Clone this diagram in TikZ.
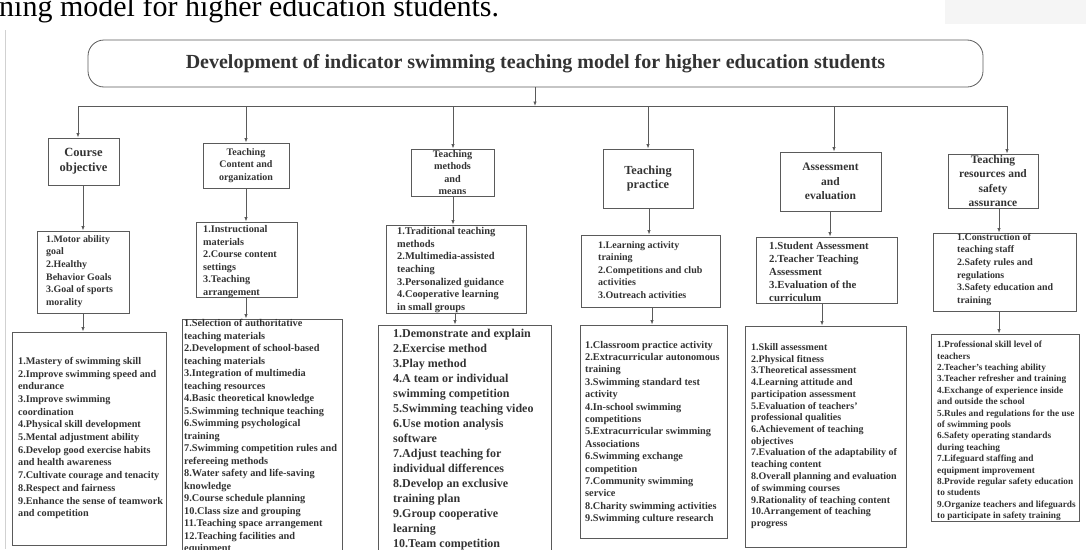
\documentclass[tikz,border=0pt]{standalone}
\usepackage{fontspec}
\setmainfont{Liberation Serif}
\usetikzlibrary{arrows.meta}
\definecolor{linegray}{HTML}{5A5A5A}
\definecolor{textgray}{HTML}{333333}
\newcommand{\setsize}[2]{\fontsize{#1}{#2}\selectfont\bfseries}

\begin{document}
\begin{tikzpicture}[
  x = 1pt, y = -1pt,
  line/.style  = {draw=linegray, line width=0.8pt},
  arr/.style   = {line, -{Latex[length=4.5pt,width=3.4pt]}},
  frame/.style = {draw=linegray, line width=0.8pt, inner sep=0pt},
  head/.style  = {frame, align=center, text=textgray},
  words/.style = {anchor=west, align=left, inner sep=0pt, text=textgray},
]

\useasboundingbox (0,0) rectangle (1086,549);

\fill[black!4] (945,0) rectangle (1086,24);
\draw[black!18, line width=0.6pt] (5,30) -- (5,549);
\node[anchor=base west, inner sep=0pt, font=\fontsize{30}{34}\selectfont] (caption)
  at (-1,16) {ning model for higher education students.};

\node[frame, rounded corners=16pt, minimum width=895pt, minimum height=47pt,
      text=textgray, font=\setsize{20}{24}] (top) at (535.5,63.5)
  {Development of indicator swimming teaching model for higher education students};

\coordinate (bus)  at (535,106);
\coordinate (busL) at (78,106);
\coordinate (busR) at (1007,106);
\draw[arr] (top.south -| bus) -- (bus);
\draw[line] (busL) -- (busR);

\node[head, minimum width=71pt, minimum height=47pt, font=\setsize{12.5}{15}]
  (co-head) at (83.5,161.5) {Course\\objective};
\node[head, minimum width=86pt, minimum height=45pt, font=\setsize{10}{12.3}]
  (tc-head) at (246,165.5) {Teaching\\Content and\\organization};
\node[head, minimum width=83pt, minimum height=47pt, font=\setsize{10.2}{12.3}]
  (tm-head) at (452.5,172.5) {Teaching\\methods\\and\\means};
\node[head, minimum width=90pt, minimum height=59pt, font=\setsize{12.3}{14.5}]
  (tp-head) at (648,178.5) {Teaching\\practice};
\node[head, minimum width=101pt, minimum height=59pt, font=\setsize{11.5}{14.5}]
  (ae-head) at (830.5,181.5) {Assessment\\and\\evaluation};
\node[head, minimum width=90pt, minimum height=54pt, font=\setsize{11.5}{14.5}]
  (tr-head) at (993,181) {Teaching\\resources and\\safety\\assurance};

\node[frame, minimum width=92pt,  minimum height=82pt] (co-list) at (83,272) {};
\node[frame, minimum width=101pt, minimum height=75pt] (tc-list) at (246.5,259.5) {};
\node[frame, minimum width=140pt, minimum height=88pt] (tm-list) at (456,269) {};
\node[frame, minimum width=139pt, minimum height=72pt] (tp-list) at (650.5,271) {};
\node[frame, minimum width=141pt, minimum height=66pt] (ae-list) at (826.5,270) {};
\node[frame, minimum width=143pt, minimum height=78pt] (tr-list) at (1004.5,272) {};

\node[words, font=\setsize{9.9}{12.6}] (co-list-t) at (46,271.5)
  {1.Motor ability\\goal\\2.Healthy\\Behavior Goals\\3.Goal of sports\\morality};
\node[words, font=\setsize{10.2}{12.6}] (tc-list-t) at (203,261.5)
  {1.Instructional\\materials\\2.Course content\\settings\\3.Teaching\\arrangement};
\node[words, font=\setsize{10.4}{12.7}] (tm-list-t) at (397,270)
  {1.Traditional teaching\\methods\\2.Multimedia-assisted\\teaching\\3.Personalized guidance\\4.Cooperative learning\\in small groups};
\node[words, font=\setsize{10}{12.5}] (tp-list-t) at (598,270)
  {1.Learning activity\\training\\2.Competitions and club\\activities\\3.Outreach activities};
\node[words, font=\setsize{10.8}{13}] (ae-list-t) at (769,271.5)
  {1.Student Assessment\\2.Teacher Teaching\\Assessment\\3.Evaluation of the\\curriculum};
\node[words, font=\setsize{9.9}{12.6}] (tr-list-t) at (957,269.5)
  {1.Construction of\\teaching staff\\2.Safety rules and\\regulations\\3.Safety education and\\training};

\node[frame, minimum width=154pt, minimum height=213pt] (co-more) at (89,438.5) {};
\node[frame, minimum width=160pt, minimum height=266pt] (tc-more) at (262,452) {};
\node[frame, minimum width=173pt, minimum height=260pt] (tm-more) at (464.5,455) {};
\node[frame, minimum width=147pt, minimum height=213pt] (tp-more) at (653.5,431.5) {};
\node[frame, minimum width=161pt, minimum height=221pt] (ae-more) at (825.5,436.5) {};
\node[frame, minimum width=148pt, minimum height=187pt] (tr-more) at (1005,427.5) {};

\node[words, font=\setsize{10.2}{12.7}] (co-more-t) at (18,438)
  {1.Mastery of swimming skill\\2.Improve swimming speed and\\endurance\\3.Improve swimming\\coordination\\4.Physical skill development\\5.Mental adjustment ability\\6.Develop good exercise habits\\and health awareness\\7.Cultivate courage and tenacity\\8.Respect and fairness\\9.Enhance the sense of teamwork\\and competition};
\node[words, font=\setsize{10.3}{12.5}] (tc-more-t) at (184,436.5)
  {1.Selection of authoritative\\teaching materials\\2.Development of school-based\\teaching materials\\3.Integration of multimedia\\teaching resources\\4.Basic theoretical knowledge\\5.Swimming technique teaching\\6.Swimming psychological\\training\\7.Swimming competition rules and\\refereeing methods\\8.Water safety and life-saving\\knowledge\\9.Course schedule planning\\10.Class size and grouping\\11.Teaching space arrangement\\12.Teaching facilities and\\equipment};
\node[words, font=\setsize{12}{15}] (tm-more-t) at (393,440)
  {1.Demonstrate and explain\\2.Exercise method\\3.Play method\\4.A team or individual\\swimming competition\\5.Swimming teaching video\\6.Use motion analysis\\software\\7.Adjust teaching for\\individual differences\\8.Develop an exclusive\\training plan\\9.Group cooperative\\learning\\10.Team competition};
\node[words, font=\setsize{10.3}{12.4}] (tp-more-t) at (585,432.5)
  {1.Classroom practice activity\\2.Extracurricular autonomous\\training\\3.Swimming standard test\\activity\\4.In-school swimming\\competitions\\5.Extracurricular swimming\\Associations\\6.Swimming exchange\\competition\\7.Community swimming\\service\\8.Charity swimming activities\\9.Swimming culture research};
\node[words, font=\setsize{10}{11.75}] (ae-more-t) at (751,436)
  {1.Skill assessment\\2.Physical fitness\\3.Theoretical assessment\\4.Learning attitude and\\participation assessment\\5.Evaluation of teachers’\\professional qualities\\6.Achievement of teaching\\objectives\\7.Evaluation of the adaptability of\\teaching content\\8.Overall planning and evaluation\\of swimming courses\\9.Rationality of teaching content\\10.Arrangement of teaching\\progress};
\node[words, font=\setsize{9.3}{11.4}] (tr-more-t) at (937,431)
  {1.Professional skill level of\\teachers\\2.Teacher’s teaching ability\\3.Teacher refresher and training\\4.Exchange of experience inside\\and outside the school\\5.Rules and regulations for the use\\of swimming pools\\6.Safety operating standards\\during teaching\\7.Lifeguard staffing and\\equipment improvement\\8.Provide regular safety education\\to students\\9.Organize teachers and lifeguards\\to participate in safety training};

\foreach \c/\x in {co/78, tc/246, tm/453, tp/648, ae/834, tr/1007}
  \draw[arr] (\x,0 |- bus) -- (\x,0 |- \c-head.north);
\foreach \c/\x in {co/83, tc/246, tm/453, tp/649, ae/830, tr/999}
  \draw[arr] (\x,0 |- \c-head.south) -- (\x,0 |- \c-list.north);
\foreach \c/\x in {co/83, tc/246, tm/455, tp/652, ae/822, tr/999}
  \draw[arr] (\x,0 |- \c-list.south) -- (\x,0 |- \c-more.north);

\end{tikzpicture}
\end{document}
